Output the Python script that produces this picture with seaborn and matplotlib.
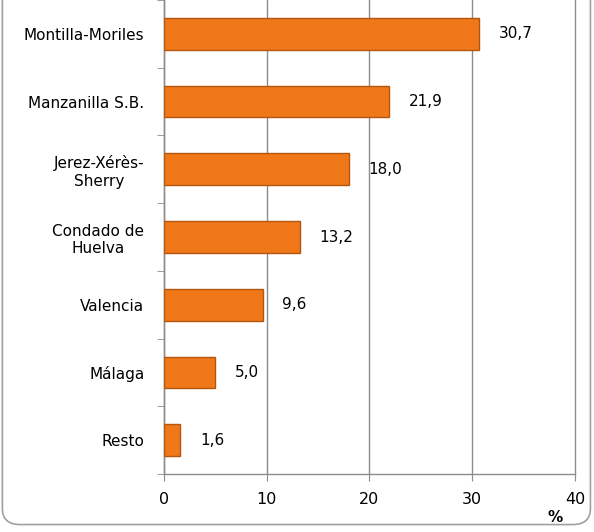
import matplotlib
matplotlib.use("Agg")
import matplotlib.pyplot as plt
from matplotlib.patches import FancyBboxPatch
import seaborn as sns
import pandas as pd

categories = ["Montilla-Moriles", "Manzanilla S.B.", "Jerez-Xérès-\nSherry",
              "Condado de\nHuelva", "Valencia", "Málaga", "Resto"]
values = [30.7, 21.9, 18.0, 13.2, 9.6, 5.0, 1.6]
x_ticks = [0, 10, 20, 30, 40]

df = pd.DataFrame({"zona": categories, "pct": values})

sns.set_style("white")
plt.rcParams['font.family'] = ['DejaVu Sans']
plt.rcParams['text.color'] = 'black'
plt.rcParams['xtick.color'] = 'black'
plt.rcParams['ytick.color'] = 'black'

fig = plt.figure(figsize=(5.94, 5.32), dpi=100)
ax = fig.add_axes([0.276, 0.109, 0.692, 0.891])

# outer rounded frame (top is clipped in the original)
frame = FancyBboxPatch((0.004, 0.014), 0.99, 1.2, boxstyle="round,pad=0,rounding_size=0.03",
                       transform=fig.transFigure, facecolor="none", edgecolor="#a0a0a0",
                       linewidth=1.2, zorder=0)
fig.patches.append(frame)

sns.barplot(data=df, y="zona", x="pct", orient="h", color="#f07818", width=0.47,
            edgecolor="#b5560e", linewidth=1.0, saturation=1, ax=ax, zorder=3)

for i, v in enumerate(values):
    ax.annotate(f"{v:.1f}".replace(".", ","), xy=(v, i), xytext=(14, 0),
                textcoords="offset points", va="center", ha="left", fontsize=11, color="black")

ax.set_xlim(0, 40)
ax.set_ylim(len(categories) - 0.5, -0.5)
ax.set_xticks(x_ticks)
ax.set_xticklabels([str(t) for t in x_ticks], fontsize=11.5)
ax.xaxis.grid(True, color="#8c8c8c", linewidth=1.0)
for gl in ax.get_xgridlines():
    gl.set_clip_on(False)
ax.set_axisbelow(True)

ax.set_yticks(range(len(categories)))
ax.set_yticklabels(categories, fontsize=11, multialignment="center")
ax.set_yticks([i - 0.5 for i in range(len(categories) + 1)], minor=True)
ax.tick_params(axis="y", which="major", length=0, pad=14)
ax.tick_params(axis="y", which="minor", length=5, color="#8c8c8c", direction="out", left=True)
ax.tick_params(axis="x", length=5, color="#8c8c8c", labelcolor="black", direction="out",
               bottom=True, pad=8)

ax.set_xlabel("")
ax.set_ylabel("")
for side in ["top", "right"]:
    ax.spines[side].set_visible(False)
for side in ["left", "bottom"]:
    ax.spines[side].set_color("#8c8c8c")
    ax.spines[side].set_linewidth(1.0)

fig.text(0.934, 0.028, "%", fontsize=11, fontweight="bold", ha="center", va="center")

fig.savefig("out.png", dpi=100)
